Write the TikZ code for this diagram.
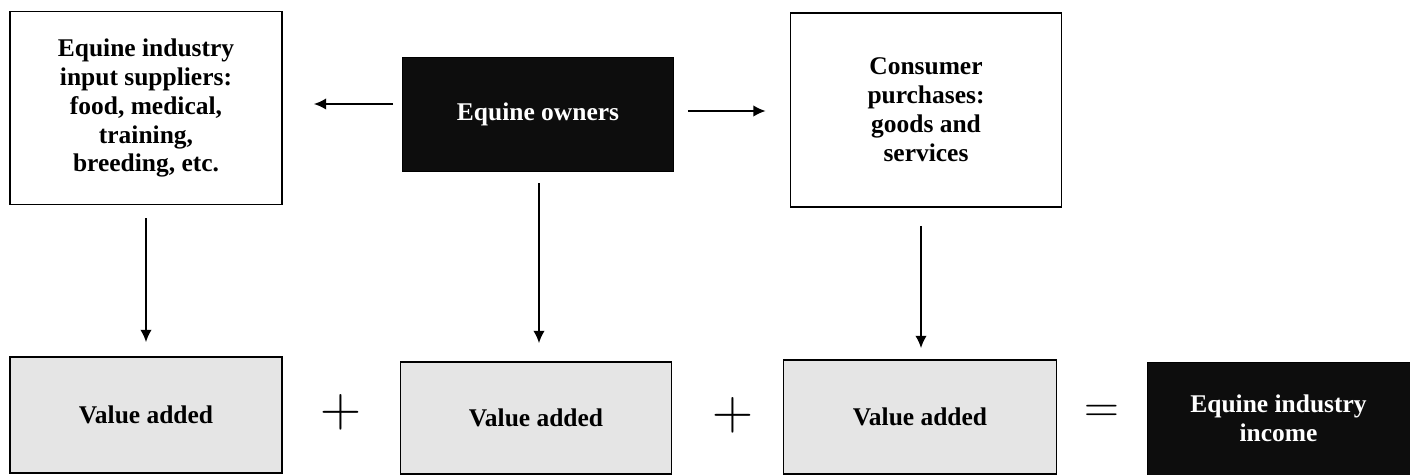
\documentclass[tikz,border=0pt]{standalone}
\usepackage{fontspec}
\setmainfont{Liberation Serif}
\usetikzlibrary{arrows.meta,positioning}

\begin{document}
\begin{tikzpicture}[x=0.02cm, y=-0.02cm,
        every node/.style={font=\fontsize{14.5}{16.5}\selectfont\bfseries, align=center},
        wbox/.style={draw, line width=1pt, fill=white, inner sep=0pt},
        bbox/.style={draw, fill=black!95, text=white, inner sep=0pt},
        gbox/.style={draw, line width=1pt, fill=gray!20, inner sep=0pt},
        sign/.style={font=\fontsize{24}{24}\selectfont, scale=1.3},
        arr/.style={-{Latex[length=7pt,width=6.5pt]}, line width=1pt}]
        \useasboundingbox (0,0) rectangle (1410,475);
        \node[wbox, minimum width=5.44cm, minimum height=3.86cm] (supp) at (146,108)
            {Equine industry\\input suppliers:\\food, medical,\\training,\\breeding, etc.};
        \node[bbox, minimum width=5.42cm, minimum height=2.28cm] (owners) at (538,114) {Equine owners};
        \node[wbox, minimum width=5.42cm, minimum height=3.88cm] (cons) at (926,110)
            {Consumer\\purchases:\\goods and\\services};
        \node[gbox, minimum width=5.44cm, minimum height=2.32cm] (va1) at (146,415) {Value added};
        \node[gbox, minimum width=5.42cm, minimum height=2.24cm] (va2) at (536,418) {Value added};
        \node[gbox, minimum width=5.46cm, minimum height=2.28cm] (va3) at (920,417) {Value added};
        \node[bbox, minimum width=5.26cm, minimum height=2.26cm] (income) at (1278.5,418.5)
            {Equine industry\\income};
        \node[sign] (plusA) at (341,412) {$+$};
        \node[sign] (plusB) at (733,415) {$+$};
        \node[sign, scale=0.85] (eq) at (1102,414) {$=$};
        \draw[arr, shorten <=0.18cm, shorten >=0.62cm] ([yshift=0.2cm]owners.west) -- ([yshift=0.2cm]owners.west -| supp.east);
        \draw[arr, shorten <=0.28cm, shorten >=0.48cm] ([yshift=0.06cm]owners.east) -- ([yshift=0.06cm]owners.east -| cons.west);
        \draw[arr, shorten <=0.26cm, shorten >=0.28cm] (supp.south) -- (supp.south |- va1.north);
        \draw[arr, shorten <=0.24cm, shorten >=0.36cm] ([xshift=0.02cm]owners.south) -- ([xshift=0.02cm]owners.south |- va2.north);
        \draw[arr, shorten <=0.36cm, shorten >=0.22cm] ([xshift=-0.1cm]cons.south) -- ([xshift=-0.1cm]cons.south |- va3.north);
\end{tikzpicture}
\end{document}
